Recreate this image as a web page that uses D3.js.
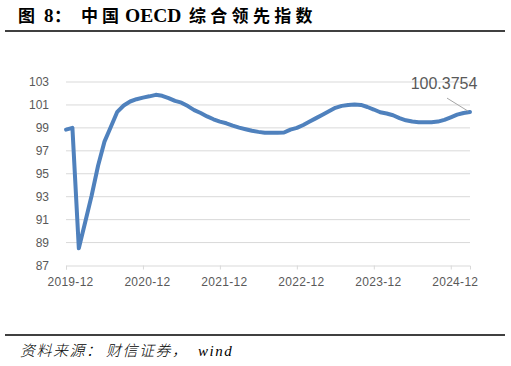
<!DOCTYPE html>
<html>
<head>
<meta charset="utf-8">
<script src="https://cdn.jsdelivr.net/npm/d3@7"></script>
<style>
  html, body { margin: 0; padding: 0; background: #fff; }
  svg { display: block; }
</style>
</head>
<body>
<svg id="chart"></svg>
<script>
const d3 = window.d3;

// Monthly categories, 2019-12 .. 2025-03
const months = d3.timeMonth.range(new Date(2019, 11, 1), new Date(2025, 3, 1)).map(d3.timeFormat("%Y-%m"));

// China OECD composite leading indicator
const cliValues = [
    98.85, 99.0, 88.5, 90.8, 93.1, 95.7, 97.8, 99.1, 100.4, 100.95,
    101.3, 101.5, 101.64, 101.75, 101.88, 101.8, 101.6, 101.35, 101.2, 100.9,
    100.55, 100.3, 100.0, 99.75, 99.55, 99.4, 99.2, 99.02, 98.88, 98.75,
    98.65, 98.58, 98.58, 98.58, 98.6, 98.85, 99.0, 99.25, 99.55, 99.85,
    100.15, 100.45, 100.75, 100.92, 101.0, 101.03, 101.0, 100.82, 100.6, 100.36,
    100.25, 100.1, 99.85, 99.66, 99.55, 99.5, 99.5, 99.5, 99.55, 99.7,
    99.92, 100.15, 100.3, 100.3754
];

const xTickLabels = ["2019-12", "2020-12", "2021-12", "2022-12", "2023-12", "2024-12"];
const yTicks = [87, 89, 91, 93, 95, 97, 99, 101, 103];
const lastLabel = "100.3754";

const width = 511, height = 366;
const svg = d3.select("#chart").attr("width", width).attr("height", height);

// Title, pieces placed one by one to keep the wide CJK spacing
const titleParts = [
    { t: "图", x: 18, ls: 0, fs: 17 },
    { t: "8", x: 44, ls: 0, fs: 19 },
    { t: "：", x: 54, ls: 0, fs: 17 },
    { t: "中国", x: 81, ls: 4, fs: 17 },
    { t: "OECD", x: 125, ls: 0, fs: 19.5 },
    { t: "综合领先指数", x: 189, ls: 4.3, fs: 17 }
];
svg.append("text")
    .attr("y", 22)
    .attr("font-family", "'Liberation Serif', 'Noto Sans CJK SC', serif")
    .attr("font-weight", "bold")
    .attr("fill", "#000")
    .selectAll("tspan")
    .data(titleParts)
    .join("tspan")
    .attr("x", d => d.x)
    .attr("font-size", d => d.fs + "px")
    .attr("letter-spacing", d => d.ls + "px")
    .text(d => d.t);

svg.append("line")
    .attr("x1", 5).attr("x2", 505)
    .attr("y1", 31).attr("y2", 31)
    .attr("stroke", "#000").attr("stroke-width", 1.5);

// Scales
const x = d3.scalePoint().domain(months).range([66, 470]);
const y = d3.scaleLinear().domain([87, 103]).range([265.5, 82]);

// Gridlines
svg.append("g")
    .selectAll("line")
    .data(yTicks.filter(d => d !== 87))
    .join("line")
    .attr("x1", 66).attr("x2", 470)
    .attr("y1", d => y(d)).attr("y2", d => y(d))
    .attr("stroke", "#d9d9d9")
    .attr("stroke-width", 1);

// Y axis labels
const yAxis = svg.append("g")
    .attr("transform", "translate(49,0)")
    .call(d3.axisLeft(y).tickValues(yTicks).tickSize(0).tickPadding(0));
yAxis.select(".domain").remove();
yAxis.selectAll("text")
    .attr("font-family", "'Liberation Sans', Arial, sans-serif")
    .attr("font-size", "12px")
    .attr("fill", "#595959");

// X axis
const xAxis = svg.append("g")
    .attr("transform", `translate(0,${y(87)})`)
    .call(d3.axisBottom(x)
        .tickValues(xTickLabels)
        .tickSize(4)
        .tickPadding(8));
xAxis.select(".domain").attr("stroke", "#d9d9d9");
xAxis.selectAll(".tick line").attr("stroke", "#d9d9d9");
xAxis.selectAll("text")
    .attr("dx", 4)
    .attr("font-family", "'Liberation Sans', Arial, sans-serif")
    .attr("font-size", "12px")
    .attr("letter-spacing", "0.3px")
    .attr("fill", "#595959");

// Line
const line = d3.line()
    .x((d, i) => x(months[i]))
    .y(d => y(d));

svg.append("path")
    .datum(cliValues)
    .attr("d", line)
    .attr("fill", "none")
    .attr("stroke", "#4f81bd")
    .attr("stroke-width", 4)
    .attr("stroke-linejoin", "round")
    .attr("stroke-linecap", "round");

// Last value label with leader line
const lastX = x(months[months.length - 1]);
const lastY = y(cliValues[cliValues.length - 1]);
svg.append("line")
    .attr("x1", lastX - 23).attr("y1", lastY - 14)
    .attr("x2", lastX - 2).attr("y2", lastY - 1)
    .attr("stroke", "#a6a6a6")
    .attr("stroke-width", 1);
svg.append("text")
    .attr("x", lastX - 26)
    .attr("y", lastY - 23)
    .attr("text-anchor", "middle")
    .attr("font-family", "'Liberation Sans', Arial, sans-serif")
    .attr("font-size", "16px")
    .attr("fill", "#595959")
    .text(lastLabel);

// Source
svg.append("line")
    .attr("x1", 5).attr("x2", 505)
    .attr("y1", 335).attr("y2", 335)
    .attr("stroke", "#000").attr("stroke-width", 1.5);

const sourceParts = [
    { t: "资料来源：", x: 20 },
    { t: "财信证券，", x: 106 },
    { t: "wind", x: 198 }
];
svg.append("text")
    .attr("y", 356)
    .attr("font-family", "'Liberation Serif', 'Noto Sans CJK SC', serif")
    .attr("font-style", "italic")
    .attr("font-weight", 300)
    .attr("font-size", "15px")
    .attr("letter-spacing", "1.5px")
    .attr("fill", "#000")
    .selectAll("tspan")
    .data(sourceParts)
    .join("tspan")
    .attr("x", d => d.x)
    .text(d => d.t);
</script>
</body>
</html>
